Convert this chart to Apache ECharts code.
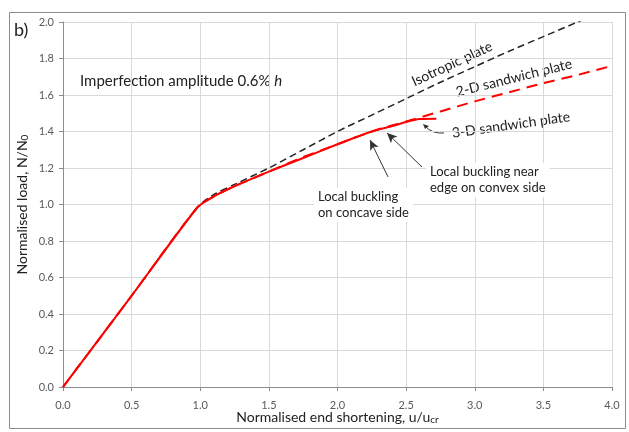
<!DOCTYPE html>
<html>
<head>
<meta charset="utf-8">
<script src="https://cdn.jsdelivr.net/npm/echarts@6/dist/echarts.min.js"></script>
<style>
  html, body { margin: 0; padding: 0; background: #fff; }
  #chart { width: 629px; height: 432px; }
</style>
</head>
<body>
<div id="chart"></div>
<script>
// data: [u/ucr, N/N0]
var isotropic = [[0, 0], [0.5, 0.5], [0.98, 0.985], [1.1, 1.055], [1.25, 1.11], [1.5, 1.20],
    [1.75, 1.30], [2.0, 1.40], [2.25, 1.49], [2.5, 1.58], [2.75, 1.67], [3.0, 1.755],
    [3.25, 1.84], [3.5, 1.92], [3.75, 2.0], [4.0, 2.08]];
var sandwich2d = [[0, 0], [0.5, 0.5], [0.98, 0.985], [1.1, 1.045], [1.25, 1.1], [1.5, 1.18],
    [1.75, 1.26], [2.0, 1.33], [2.25, 1.40], [2.5, 1.455], [2.75, 1.51], [3.0, 1.565],
    [3.25, 1.615], [3.5, 1.665], [3.75, 1.71], [4.0, 1.76]];
var sandwich3d = [[0, 0], [0.5, 0.5], [0.98, 0.985], [1.1, 1.045], [1.25, 1.1], [1.5, 1.18],
    [1.75, 1.255], [2.0, 1.33], [2.25, 1.40], [2.4, 1.43], [2.5, 1.452], [2.6, 1.468],
    [2.72, 1.47]];
var xTicks = [0.0, 0.5, 1.0, 1.5, 2.0, 2.5, 3.0, 3.5, 4.0];
var yTicks = [0.0, 0.2, 0.4, 0.6, 0.8, 1.0, 1.2, 1.4, 1.6, 1.8, 2.0];
// annotation arrows, in data units
var arrowConcave = [[2.368, 1.151], [2.237, 1.353]];
var arrowConvex = [[2.616, 1.205], [2.361, 1.392]];

var font = 'Lato, "Open Sans", sans-serif';
var chart = echarts.init(document.getElementById('chart'));

var option = {
    animation: false,
    grid: { left: 63, right: 17, top: 22, bottom: 45, outerBoundsMode: 'none', containLabel: false },
    xAxis: {
        type: 'value',
        min: xTicks[0],
        max: xTicks[xTicks.length - 1],
        interval: 0.5,
        name: '{a|Normalised end shortening, u/u}{s|cr}',
        nameLocation: 'middle',
        nameGap: 23,
        nameMoveOverlap: false,
        nameTextStyle: {
            rich: {
                a: { fontFamily: font, fontSize: 14, color: '#222' },
                s: { fontFamily: font, fontSize: 10, color: '#222', padding: [5, 0, 0, 0] }
            }
        },
        axisLine: { lineStyle: { color: '#8c8c8c', width: 1 } },
        axisTick: { show: true, length: 4, lineStyle: { color: '#8c8c8c' } },
        axisLabel: { color: '#595959', fontFamily: font, fontSize: 11, margin: 13,
            formatter: function (v) { return v.toFixed(1); } },
        splitLine: { show: true, lineStyle: { color: '#d9d9d9', width: 1 } }
    },
    yAxis: {
        type: 'value',
        min: yTicks[0],
        max: yTicks[yTicks.length - 1],
        interval: 0.2,
        name: '{a|Normalised load, N/N}{s|0}',
        nameLocation: 'middle',
        nameGap: 33,
        nameMoveOverlap: false,
        nameTextStyle: {
            rich: {
                a: { fontFamily: font, fontSize: 14, color: '#222' },
                s: { fontFamily: font, fontSize: 10, color: '#222', padding: [5, 0, 0, 0] }
            }
        },
        axisLine: { show: true, lineStyle: { color: '#8c8c8c', width: 1 } },
        axisTick: { show: true, length: 4, lineStyle: { color: '#8c8c8c' } },
        axisLabel: { color: '#595959', fontFamily: font, fontSize: 11, margin: 9,
            formatter: function (v) { return v.toFixed(1); } },
        splitLine: { show: true, lineStyle: { color: '#d9d9d9', width: 1 } }
    },
    series: [
        {
            name: 'Isotropic plate',
            type: 'line',
            data: isotropic,
            showSymbol: false,
            smooth: 0.3,
            clip: true,
            lineStyle: { color: '#222', width: 1.5, type: [7, 4] },
            markLine: {
                silent: true,
                symbol: ['none', 'arrow'],
                symbolSize: [7, 10],
                label: { show: false },
                lineStyle: { color: '#333', width: 1, type: 'solid' },
                data: [
                    [{ coord: arrowConcave[0] }, { coord: arrowConcave[1] }],
                    [{ coord: arrowConvex[0] }, { coord: arrowConvex[1] }]
                ]
            }
        },
        {
            name: '2-D sandwich plate',
            type: 'line',
            data: sandwich2d,
            showSymbol: false,
            smooth: 0.3,
            lineStyle: { color: '#ff0000', width: 2, type: [11, 7] }
        },
        {
            name: '3-D sandwich plate',
            type: 'line',
            data: sandwich3d,
            showSymbol: false,
            smooth: 0.2,
            lineStyle: { color: '#ff0000', width: 2 }
        }
    ],
    graphic: [
        { type: 'rect', shape: { x: 9.5, y: 12.5, width: 616, height: 416 },
          style: { fill: 'none', stroke: '#8c8c8c', lineWidth: 1 }, z: -1 },
        { type: 'text', x: 14, y: 21, style: { text: 'b)', font: '18px ' + font, fill: '#222' } },
        { type: 'text', x: 80, y: 74, style: {
            text: '{a|Imperfection amplitude 0.6% }{i|h}',
            rich: { a: { font: '15px ' + font, fill: '#222' }, i: { font: 'italic 15px ' + font, fill: '#222' } } } },
        { type: 'text', x: 452, y: 64, rotation: 25 * Math.PI / 180,
          style: { text: 'Isotropic plate', font: '14px ' + font, fill: '#222', align: 'center', verticalAlign: 'middle' } },
        { type: 'text', x: 514, y: 78, rotation: 14 * Math.PI / 180,
          style: { text: '2-D sandwich plate', font: '14px ' + font, fill: '#222', align: 'center', verticalAlign: 'middle' } },
        { type: 'text', x: 511, y: 125, rotation: 8 * Math.PI / 180,
          style: { text: '3-D sandwich plate', font: '14px ' + font, fill: '#222', align: 'center', verticalAlign: 'middle' } },
        { type: 'text', x: 426, y: 163, z: 10,
          style: { text: 'Local buckling near\nedge on convex side', font: '13px ' + font, fill: '#222',
                   lineHeight: 16, backgroundColor: '#fff', padding: [1, 4] } },
        { type: 'text', x: 314, y: 188, z: 10,
          style: { text: 'Local buckling\non concave side', font: '13px ' + font, fill: '#222',
                   lineHeight: 16, backgroundColor: '#fff', padding: [1, 4] } },
        { type: 'bezierCurve', shape: { x1: 444, y1: 133, cpx1: 432, cpy1: 134, x2: 425, y2: 126 },
          style: { stroke: '#333', lineWidth: 1, fill: 'none' } },
        { type: 'polygon', shape: { points: [[423, 124], [429, 126], [425, 129]] },
          style: { fill: '#333' } }
    ]
};

chart.setOption(option);
</script>
</body>
</html>
